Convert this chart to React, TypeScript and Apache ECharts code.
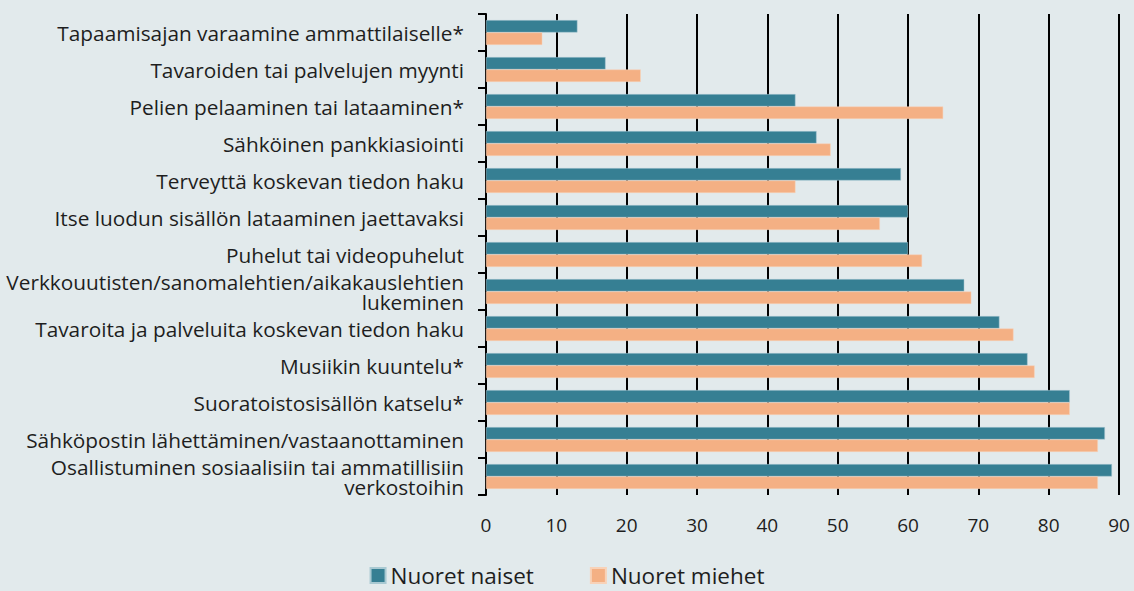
import React, { useEffect, useRef } from "react";
import * as echarts from "echarts";

const categories = [
  "Tapaamisajan varaamine ammattilaiselle*",
  "Tavaroiden tai palvelujen myynti",
  "Pelien pelaaminen tai lataaminen*",
  "Sähköinen pankkiasiointi",
  "Terveyttä koskevan tiedon haku",
  "Itse luodun sisällön lataaminen jaettavaksi",
  "Puhelut tai videopuhelut",
  "Verkkouutisten/sanomalehtien/aikakauslehtien\nlukeminen",
  "Tavaroita ja palveluita koskevan tiedon haku",
  "Musiikin kuuntelu*",
  "Suoratoistosisällön katselu*",
  "Sähköpostin lähettäminen/vastaanottaminen",
  "Osallistuminen sosiaalisiin tai ammatillisiin\nverkostoihin",
];
const naiset = [13, 17, 44, 47, 59, 60, 60, 68, 73, 77, 83, 88, 89];
const miehet = [8, 22, 65, 49, 44, 56, 62, 69, 75, 78, 83, 87, 87];
const seriesNames = ["Nuoret naiset", "Nuoret miehet"];

const FONT = "'Open Sans', 'Noto Sans', sans-serif";

export default function App() {
  const ref = useRef<HTMLDivElement>(null);
  useEffect(() => {
    if (!ref.current) return;
    const chart = echarts.init(ref.current, undefined, { renderer: "svg" });
    chart.setOption({
      animation: false,
      backgroundColor: "#e2eaec",
      textStyle: { fontFamily: FONT },
      legend: {
        bottom: -1,
        left: "center",
        itemWidth: 15,
        itemHeight: 15,
        itemGap: 56,
        icon: "rect",
        textStyle: { fontSize: 22.5, color: "#1e1e1e", fontFamily: FONT },
        data: seriesNames,
      },
      grid: { left: 486, right: 15, top: 14, bottom: 96, containLabel: false },
      xAxis: {
        type: "value",
        min: 0,
        max: 90,
        interval: 10,
        axisLine: { show: false },
        axisTick: { show: false },
        axisLabel: { fontSize: 19, color: "#1e1e1e", margin: 20, fontFamily: FONT },
        splitLine: { show: true, lineStyle: { color: "#000", width: 2 } },
      },
      yAxis: {
        type: "category",
        inverse: true,
        data: categories,
        axisLine: { show: true, lineStyle: { color: "#000", width: 2 } },
        axisTick: { show: true, length: 8, lineStyle: { color: "#000", width: 2 } },
        axisLabel: {
          fontSize: 20.8,
          color: "#1e1e1e",
          margin: 22,
          lineHeight: 20,
          align: "right",
          fontFamily: FONT,
        },
      },
      series: [
        {
          name: seriesNames[0],
          type: "bar",
          data: naiset,
          itemStyle: { color: "#367f93", borderColor: "#a9c9d2", borderWidth: 0.5 },
          barCategoryGap: "33%",
          barGap: "0%",
        },
        {
          name: seriesNames[1],
          type: "bar",
          data: miehet,
          itemStyle: { color: "#f4b084", borderColor: "#f8d2b8", borderWidth: 0.5 },
          barCategoryGap: "33%",
          barGap: "0%",
        },
      ],
    });
    return () => chart.dispose();
  }, []);
  return <div ref={ref} style={{ width: 1134, height: 591, position: "absolute", left: 0, top: 0 }} />;
}
